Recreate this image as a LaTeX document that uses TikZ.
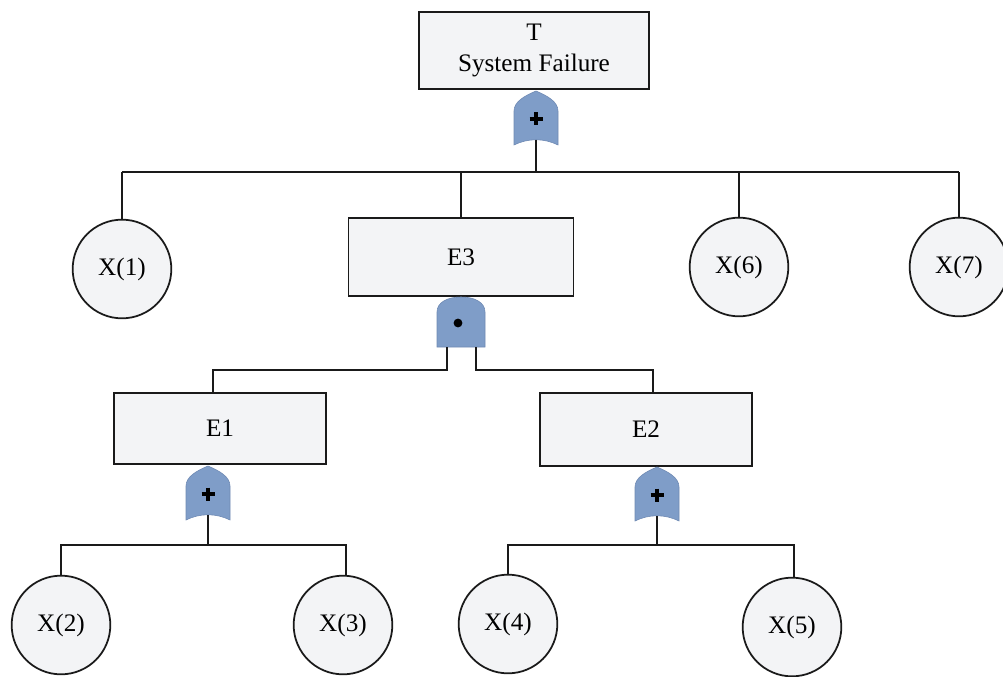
\documentclass[tikz,border=0pt]{standalone}
\usepackage{fontspec}
\setmainfont{Liberation Serif}
\usetikzlibrary{calc}

\definecolor{boxfill}{HTML}{F3F4F6}
\definecolor{gatefill}{HTML}{7F9DC8}
\definecolor{gateedge}{HTML}{6F8AB3}
\definecolor{edge}{HTML}{1A1A1A}

\tikzset{
  event/.style={draw=edge, line width=1.5pt, fill=boxfill, rectangle,
    inner sep=0pt, font=\fontsize{21.5}{26.5}\selectfont, align=center},
  basic/.style={draw=edge, line width=1.5pt, fill=boxfill, circle,
    inner sep=0pt, minimum size=2.96cm, font=\fontsize{21.5}{26}\selectfont},
  wire/.style={draw=edge, line width=1.5pt},
  % OR gate: pointed top, straight sides, concave bottom
  orgate/.pic={
    \filldraw[fill=gatefill, draw=gateedge, line width=0.5pt] (-22,26) -- (-22,-8)
      .. controls (-22,-17) and (-12,-23) .. (0,-28)
      .. controls (12,-23) and (22,-17) .. (22,-8)
      -- (22,26) .. controls (8,19) and (-8,19) .. cycle;
    \draw[line width=3.2pt, black] (-6.5,0) -- (6.5,0) (0,-6.5) -- (0,6.5);
    \coordinate (-top) at (0,-28);
    \coordinate (-out) at (0,21);
  },
  % AND gate: rounded top, flat bottom
  andgate/.pic={
    \filldraw[fill=gatefill, draw=gateedge, line width=0.5pt] (-24,25) -- (-24,-10)
      .. controls (-24,-20) and (-13,-25) .. (0,-25)
      .. controls (13,-25) and (24,-20) .. (24,-10)
      -- (24,25) -- cycle;
    \fill[black] (-3,1) circle[radius=4.4];
    \coordinate (-top) at (0,-25);
    \coordinate (-l) at (-14,25);
    \coordinate (-r) at (15,25);
  }
}

\begin{document}
\begin{tikzpicture}[x=0.03cm, y=-0.03cm]
  \useasboundingbox (0,0) rectangle (1003,677);

  % top event and its gate
  \node[event, minimum width=230*0.03cm, minimum height=77*0.03cm]
    (T) at (534,50.5) {T\\System Failure};
  \pic (gT) at (536,119) {orgate};

  % first level
  \node[basic] (X1) at (122,269) {X(1)};
  \node[event, minimum width=225*0.03cm, minimum height=78*0.03cm]
    (E3) at (461,257) {E3};
  \node[basic] (X6) at (739,267) {X(6)};
  \node[basic] (X7) at (959,267) {X(7)};
  \coordinate (bus1) at (536,172);

  \draw[wire] (gT-out) -- (gT-out |- bus1);
  \draw[wire] (X1.north |- bus1) -- (X7.north |- bus1);
  \draw[wire] (X1.north) -- (X1.north |- bus1);
  \draw[wire] (E3.north) -- (E3.north |- bus1);
  \draw[wire] (X6.north) -- (X6.north |- bus1);
  \draw[wire] (X7.north) -- (X7.north |- bus1);

  % AND gate under E3
  \pic (gA) at (461,322) {andgate};

  % second level
  \node[event, minimum width=212*0.03cm, minimum height=71*0.03cm]
    (E1) at (220,428.5) {E1};
  \node[event, minimum width=212*0.03cm, minimum height=73*0.03cm]
    (E2) at (646,429.5) {E2};
  \coordinate (bus2) at (461,370);

  \draw[wire] (gA-l) -- (gA-l |- bus2) -| ($(E1.north)+(-7,0)$);
  \draw[wire] (gA-r) -- (gA-r |- bus2) -| ($(E2.north)+(7,0)$);

  % OR gates under E1 and E2
  \pic (g1) at (208,494) {orgate};
  \pic (g2) at (657,495) {orgate};

  % basic events of the bottom row
  \node[basic] (X2) at (61,625) {X(2)};
  \node[basic] (X3) at (343,625) {X(3)};
  \node[basic] (X4) at (508,624) {X(4)};
  \node[basic] (X5) at (792,627) {X(5)};
  \coordinate (bus3) at (208,545);
  \coordinate (bus4) at (657,545);

  \draw[wire] (g1-out) -- (g1-out |- bus3);
  \draw[wire] (X2.north) |- (bus3) -| ($(X3.north)+(3,0)$);
  \draw[wire] (g2-out) -- (g2-out |- bus4);
  \draw[wire] (X4.north) |- (bus4) -| ($(X5.north)+(2,0)$);
\end{tikzpicture}
\end{document}
